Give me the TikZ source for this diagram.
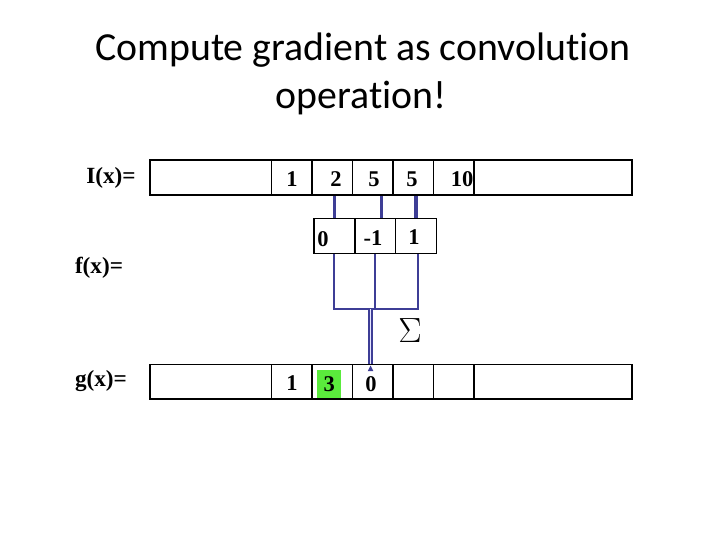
\documentclass[tikz,border=0pt]{standalone}
\usepackage{fontspec}
\setmainfont{Liberation Serif}
\newfontfamily\titlefont[Ligatures=NoCommon]{Carlito}
\usetikzlibrary{arrows.meta}
\definecolor{wireblue}{RGB}{62,62,150}
\definecolor{hitgreen}{RGB}{90,235,60}

\begin{document}
\begin{tikzpicture}[x=0.025cm, y=-0.025cm,
    cell/.style={rectangle, draw, line width=1.2pt, inner sep=0pt, minimum height=0.87cm},
    num/.style={font=\fontsize{16}{18}\selectfont\bfseries, inner sep=0pt},
    lbl/.style={font=\fontsize{16.5}{19}\selectfont\bfseries, inner sep=0pt},
    heading/.style={font=\titlefont\fontsize{28.3}{34}\selectfont, inner sep=0pt, anchor=base},
    wire/.style={draw=wireblue, line width=2.3pt},
    bus/.style={draw=wireblue, line width=1.5pt}
]
    \useasboundingbox (0,0) rectangle (720,540);

    \node[heading] (title1) at (363,60) {Compute gradient as convolution};
    \node[heading] (title2) at (361,108) {operation!};

    \node[lbl] (Ilbl) at (111,178) {I(x)=};
    \node[lbl] (flbl) at (99,268) {f(x)=};
    \node[lbl] (glbl) at (101,381) {g(x)=};

    % input row
    \node[cell, minimum width=3.0375cm] (Ia) at (210.75,177.7) {};
    \foreach \i in {1,...,5}
        \node[cell, minimum width=1.0125cm] (I\i) at ({251.25+40.5*\i},177.7) {};
    \node[cell, minimum width=3.95cm] (Ib) at (553,177.7) {};

    \node[num] (Iv1) at (292,179) {1};
    \node[num] (Iv2) at (336,179) {2};
    \node[num] (Iv3) at (374,179) {5};
    \node[num] (Iv4) at (412,179) {5};
    \node[num] (Iv5) at (462,179) {10};

    % filter
    \foreach \i in {1,2,3}
        \node[cell, minimum width=1.019cm] (f\i) at ({293.6+40.8*\i},236) {};
    \node[num] (fv1) at (323,239) {0};
    \node[num] (fv2) at (373,238) {-1};
    \node[num] (fv3) at (414,237) {1};

    % output row
    \node[num, fill=hitgreen, minimum width=0.6cm, minimum height=0.7cm] (gv2) at (329.3,384) {3};
    \node[cell, minimum width=3.0375cm] (ga) at (210.75,381.75) {};
    \foreach \i in {1,...,5}
        \node[cell, minimum width=1.0125cm] (g\i) at ({251.25+40.5*\i},381.75) {};
    \node[cell, minimum width=3.95cm] (gb) at (553,381.75) {};
    \node[num] (gv1) at (292,383) {1};
    \node[num] (gv3) at (371,384) {0};

    \draw[wire] (f1.north) -- (f1.north |- I2.south);
    \draw[wire] ([xshift=0.15cm]f2.north) -- ([xshift=0.15cm]f2.north |- I3.south);
    \draw[wire] (f3.north) -- (f3.north |- I4.south);

    \coordinate (sum) at (370.5,309);
    \draw[bus] (f1.south) -- (f1.south |- sum) -- ([xshift=0.06cm]f3.south |- sum) -- ([xshift=0.06cm]f3.south);
    \draw[bus] (f2.south) -- (f2.south |- sum);
    \draw[draw=wireblue, line width=1pt, double=blue!10, double distance=1.1pt] (sum) -- (sum |- g3.north);
    \fill[wireblue] ([yshift=-0.05cm]sum |- g3.north) -- ++(-0.07cm,-0.14cm) -- ++(0.14cm,0) -- cycle;

    \node[inner sep=0pt] (sigma) at (410,331) {\scalebox{1.2}{\fontsize{22}{26}\selectfont$\Sigma$}};
\end{tikzpicture}
\end{document}
